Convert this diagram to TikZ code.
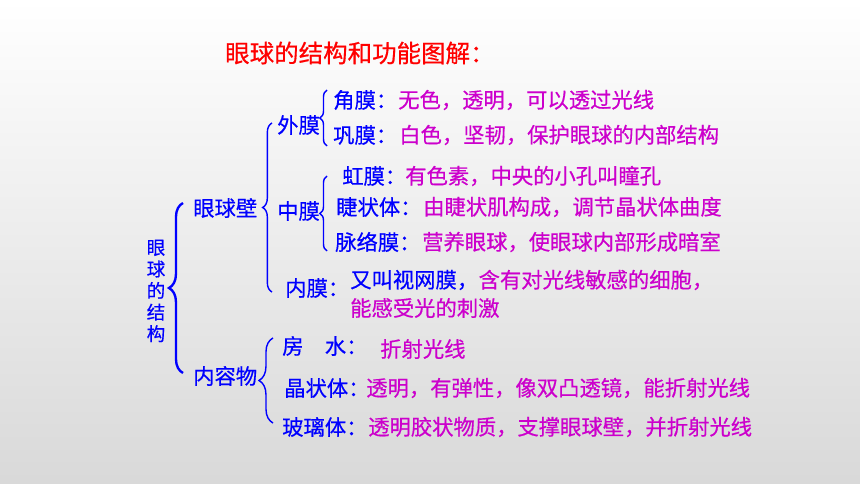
\documentclass[tikz,border=0pt]{standalone}
\usepackage{fontspec}
\setmainfont{Noto Sans CJK SC}[FakeBold=0.5]
\usepackage{tikz}
\usetikzlibrary{decorations.pathreplacing}
\usetikzlibrary{positioning}

\definecolor{partblue}{RGB}{0,0,255}
\definecolor{notepink}{RGB}{204,0,204}
\definecolor{titlered}{RGB}{255,0,0}

\begin{document}
\begin{tikzpicture}[x=0.03cm,y=-0.03cm]
    % background
    \shade[top color=white,bottom color=black!15] (0,0) rectangle (860,484);

    \begin{scope}[
            part/.style={anchor=west,inner sep=0pt,text=partblue,font=\fontsize{18.2pt}{20pt}\selectfont},
            desc/.style={anchor=west,inner sep=0pt,text=notepink,font=\fontsize{18.2pt}{20pt}\selectfont},
            bracket/.style={draw=partblue,line width=1.2pt,decorate,decoration={brace,amplitude=#1}},
            bracket/.default=6pt
            ]

            % title
            \node[anchor=west,inner sep=0pt,text=titlered,font=\fontsize{20.9pt}{23pt}\selectfont] (title) at (225,53) {眼球的结构和功能图解：};

            % root
            \node[align=center,inner sep=0pt,text=partblue,font=\fontsize{15.8pt}{18.4pt}\selectfont] (eye) at (156,291) {眼\\球\\的\\结\\构};

            % first level
            \node[part] (wall) at (193,208) {眼球壁};
            \node[part] (content) at (193,376) {内容物};

            % second level
            \node[part] (outer) at (277,125) {外膜};
            \node[part] (middle) at (277,211) {中膜};
            \node[part] (inner) at (285,288) {内膜：};
            \node[part] (humor) at (282,346) {房　水：};
            \node[part] (lens) at (284,388) {晶状体：};
            \node[part] (vitreous) at (282,427) {玻璃体：};

            % third level
            \node[part] (cornea) at (333,100) {角膜：};
            \node[part] (sclera) at (333,135) {巩膜：};
            \node[part] (iris) at (342,176) {虹膜：};
            \node[part] (ciliary) at (336,207) {睫状体：};
            \node[part] (choroid) at (335,242) {脉络膜：};

            % descriptions
            \node[desc] (corneaText) at (398,100) {无色，透明，可以透过光线};
            \node[desc] (scleraText) at (399,135) {白色，坚韧，保护眼球的内部结构};
            \node[desc] (irisText) at (405,176) {有色素，中央的小孔叫瞳孔};
            \node[desc] (ciliaryText) at (423,207) {由睫状肌构成，调节晶状体曲度};
            \node[desc] (choroidText) at (422,242) {营养眼球，使眼球内部形成暗室};
            \node[part] (retina) at (350,280) {又叫视网膜，};
            \node[desc, right=0pt of retina] (innerText) {含有对光线敏感的细胞，};
            \node[desc] (innerMore) at (350,308) {能感受光的刺激};
            \node[desc] (humorText) at (380,349) {折射光线};
            \node[desc] (lensText) at (366,388) {透明，有弹性，像双凸透镜，能折射光线};
            \node[desc] (vitreousText) at (368,427) {透明胶状物质，支撑眼球壁，并折射光线};

            % brace ends
            \coordinate (eyeTop) at (183,203);
            \coordinate (eyeBot) at (183,373);
            \coordinate (wallTop) at (272,123);
            \coordinate (wallBot) at (272,292);
            \coordinate (outerTop) at (327,90);
            \coordinate (outerBot) at (327,146);
            \coordinate (middleTop) at (327,176);
            \coordinate (middleBot) at (327,251);
            \coordinate (contentTop) at (273,338);
            \coordinate (contentBot) at (273,423);

            % draws braces
            \draw[bracket=12pt,line width=2pt] (eyeBot) -- (eyeTop);
            \draw[bracket=8pt] (wallBot) -- (wallTop);
            \draw[bracket] (outerBot) -- (outerTop);
            \draw[bracket] (middleBot) -- (middleTop);
            \draw[bracket=12pt] (contentBot) -- (contentTop);
    \end{scope}
\end{tikzpicture}
\end{document}
